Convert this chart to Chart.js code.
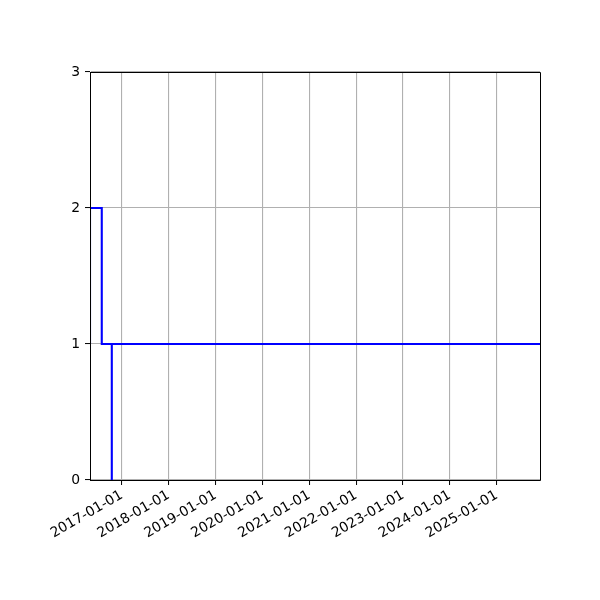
<!DOCTYPE html>
<html>
<head>
<meta charset="utf-8">
<script src="https://cdn.jsdelivr.net/npm/chart.js@4"></script>
<style>
  html, body { margin: 0; padding: 0; background: #fff; }
  #wrap { width: 600px; height: 600px; }
</style>
</head>
<body>
<div id="wrap"><canvas id="c" width="600" height="600"></canvas></div>
<script>
// Time expressed as fractional years
const stepTimes  = [2016.322, 2016.322, 2016.573, 2016.787, 2016.787, 2025.922];
const stepValues = [1, 2, 1, 0, 1, 1];
const tickYears  = [2017, 2018, 2019, 2020, 2021, 2022, 2023, 2024, 2025];
const tickLabels = ['2017-01-01','2018-01-01','2019-01-01','2020-01-01','2021-01-01','2022-01-01','2023-01-01','2024-01-01','2025-01-01'];
const yTicks     = [0, 1, 2, 3];
const xRange     = [2016.322, 2025.922];
const yRange     = [0, 3];

const FONT = { family: 'DejaVu Sans', size: 13.9 };

function align(p) { return Math.round(p - 0.5) + 0.5; }

const framePlugin = {
  id: 'frame',
  afterDatasetsDraw(chart) {
    const a = chart.chartArea, ctx = chart.ctx;
    const l = align(a.left), r = align(a.right), t = align(a.top), b = align(a.bottom);
    ctx.save();
    ctx.strokeStyle = '#000';
    ctx.lineWidth = 1;
    ctx.beginPath();
    ctx.moveTo(l, t); ctx.lineTo(r, t); ctx.lineTo(r, b); ctx.lineTo(l, b); ctx.closePath();
    ctx.stroke();
    ctx.restore();
  }
};

new Chart(document.getElementById('c'), {
  type: 'line',
  data: {
    datasets: [{
      data: stepTimes.map((t, i) => ({ x: t, y: stepValues[i] })),
      borderColor: '#0000ff',
      borderWidth: 2.1,
      pointRadius: 0,
      stepped: 'before',
      fill: false,
      tension: 0
    }]
  },
  options: {
    responsive: false,
    animation: false,
    devicePixelRatio: 1,
    layout: { padding: { left: 0, right: 60, top: 72, bottom: 0 } },
    plugins: { legend: { display: false }, tooltip: { enabled: false } },
    scales: {
      x: {
        type: 'linear',
        min: xRange[0], max: xRange[1],
        afterBuildTicks(axis) { axis.ticks = tickYears.map(v => ({ value: v })); },
        afterFit(axis) { axis.height = 120; },
        ticks: {
          autoSkip: false,
          minRotation: 30, maxRotation: 30,
          color: '#000', font: FONT, padding: 2,
          callback: (v) => tickLabels[tickYears.indexOf(v)]
        },
        grid: { color: '#b0b0b0', lineWidth: 1.1, tickColor: '#000', tickLength: 5, tickWidth: 1 },
        border: { color: '#000', width: 1 }
      },
      y: {
        type: 'linear',
        min: yRange[0], max: yRange[1],
        afterBuildTicks(axis) { axis.ticks = yTicks.map(v => ({ value: v })); },
        afterFit(axis) { axis.width = 90; },
        ticks: { color: '#000', font: FONT, padding: 5, callback: (v) => String(v) },
        grid: { color: '#b0b0b0', lineWidth: 1.1, tickColor: '#000', tickLength: 5, tickWidth: 1 },
        border: { color: '#000', width: 1 }
      }
    }
  },
  plugins: [framePlugin]
});
</script>
</body>
</html>
